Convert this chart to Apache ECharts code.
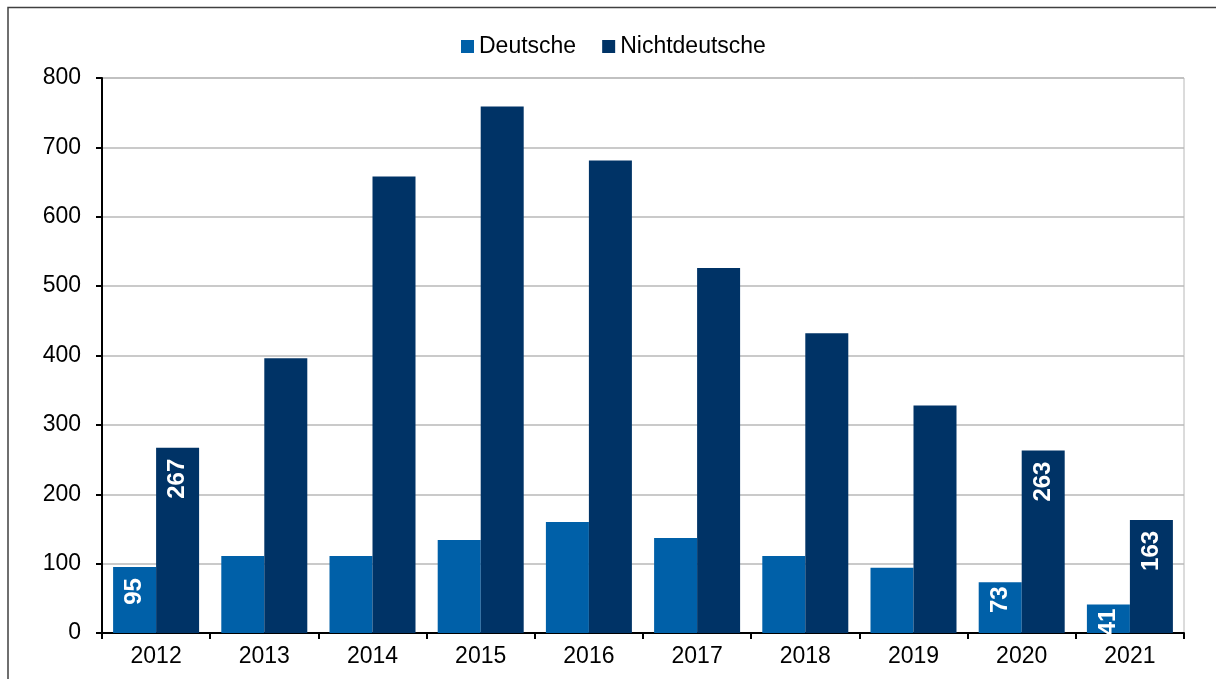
<!DOCTYPE html>
<html>
<head>
<meta charset="utf-8">
<script src="https://cdn.jsdelivr.net/npm/echarts@6/dist/echarts.min.js"></script>
<style>
  html, body { margin: 0; padding: 0; background: #fff; }
  #chart { width: 1216px; height: 679px; }
</style>
</head>
<body>
<div id="chart"></div>
<script>
// Jahre
const years = ['2012', '2013', '2014', '2015', '2016', '2017', '2018', '2019', '2020', '2021'];
// Fallzahlen
const deutsche = [95, 111, 111, 134, 160, 137, 111, 94, 73, 41];
const nichtdeutsche = [267, 396, 658, 759, 681, 526, 432, 328, 263, 163];
// Jahre, deren Werte in den Balken beschriftet werden
const labelledYears = ['2012', '2020', '2021'];
const yTicks = { min: 0, max: 800, interval: 100 };

const FONT = '"Liberation Sans", Arial, sans-serif';

function toItems(values) {
  return values.map((v, i) => {
    const show = labelledYears.includes(years[i]);
    return {
      value: v,
      label: { show: show, distance: v < 80 ? 4 : 11 }
    };
  });
}

const barLabel = {
  position: 'insideTop',
  rotate: 90,
  align: 'right',
  verticalAlign: 'middle',
  color: '#ffffff',
  fontWeight: 'bold',
  fontSize: 24,
  fontFamily: FONT,
  formatter: '{c}'
};

const chart = echarts.init(document.getElementById('chart'), null, { renderer: 'canvas' });
chart.setOption({
  animation: false,
  backgroundColor: '#ffffff',
  textStyle: { fontFamily: FONT },
  legend: {
    left: 456,
    top: 30,
    icon: 'rect',
    itemWidth: 13,
    itemHeight: 13,
    itemGap: 26,
    textStyle: { fontSize: 23, color: '#000', fontFamily: FONT },
    data: ['Deutsche', 'Nichtdeutsche']
  },
  grid: {
    left: 102, right: 32, top: 78, bottom: 46,
    show: true, borderColor: '#b8b8b8', borderWidth: 1, backgroundColor: 'transparent'
  },
  xAxis: {
    type: 'category',
    data: years,
    axisLine: { show: true, lineStyle: { color: '#000', width: 2 } },
    axisTick: { show: true, length: 6, lineStyle: { color: '#000', width: 2 } },
    axisLabel: { fontSize: 23, color: '#000', fontFamily: FONT, margin: 12 }
  },
  yAxis: {
    type: 'value',
    min: yTicks.min, max: yTicks.max, interval: yTicks.interval,
    axisLine: { show: true, lineStyle: { color: '#000', width: 2 } },
    axisTick: { show: true, length: 6, lineStyle: { color: '#000', width: 2 } },
    axisLabel: { fontSize: 23, color: '#000', fontFamily: FONT, margin: 21 },
    splitLine: { show: true, lineStyle: { color: '#b8b8b8', width: 1.5 } }
  },
  series: [
    {
      name: 'Deutsche',
      type: 'bar',
      data: toItems(deutsche),
      barWidth: 43,
      barGap: '0%',
      itemStyle: { color: '#0060a8' },
      label: barLabel
    },
    {
      name: 'Nichtdeutsche',
      type: 'bar',
      data: toItems(nichtdeutsche),
      barWidth: 43,
      barGap: '0%',
      itemStyle: { color: '#003366' },
      label: barLabel
    }
  ],
  graphic: [
    {
      type: 'polyline',
      shape: { points: [[8, 679], [8, 7.5], [1216, 7.5]] },
      style: { stroke: '#404040', lineWidth: 1.5, fill: null },
      silent: true
    }
  ]
});
</script>
</body>
</html>
